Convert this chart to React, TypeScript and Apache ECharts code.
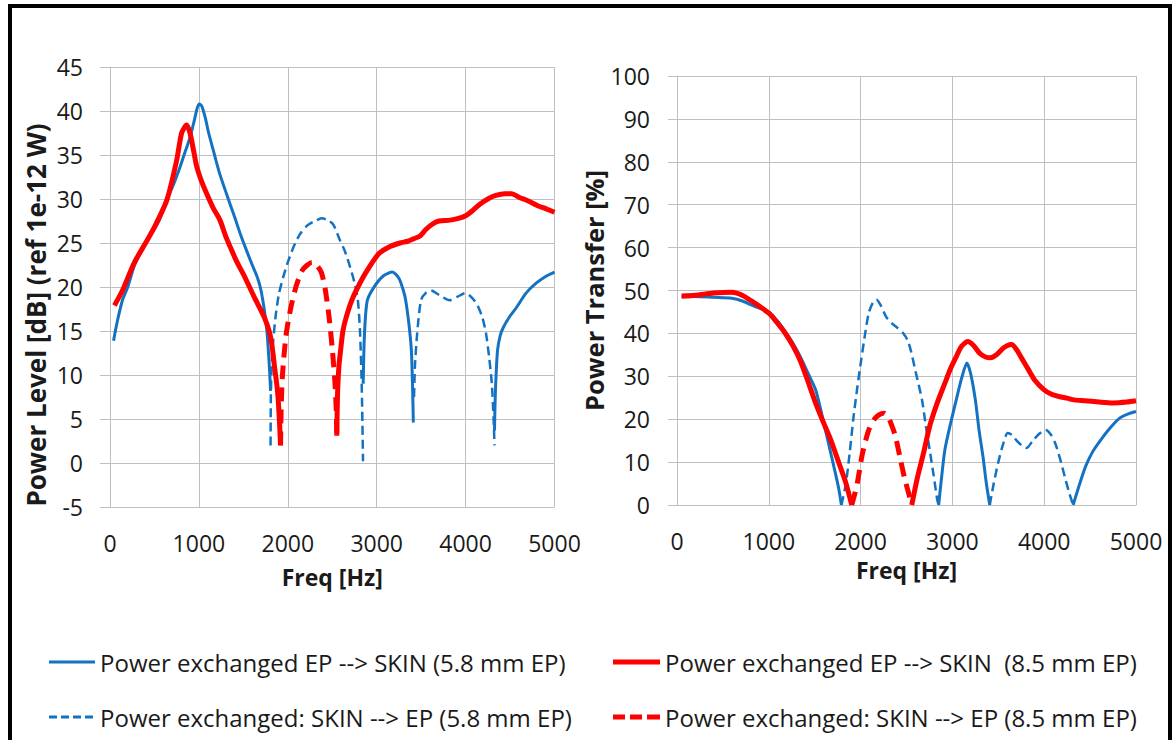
import React, { useEffect, useRef } from 'react';
import * as echarts from 'echarts';

// ---------- legend names ----------
const NAME_B1 = 'Power exchanged EP --> SKIN (5.8 mm EP)';
const NAME_B2 = 'Power exchanged: SKIN --> EP (5.8 mm EP)';
const NAME_R1 = 'Power exchanged EP --> SKIN  (8.5 mm EP)';
const NAME_R2 = 'Power exchanged: SKIN --> EP (8.5 mm EP)';

// ---------- left chart: Power Level [dB] ----------
const lvlBlueSolidA = [[40, 13.9], [80, 16], [140, 18.5], [200, 20], [270, 22.3], [350, 24], [450, 25.8], [550, 27.5], [640, 29.9], [720, 31.8], [790, 33.7], [850, 35.5], [900, 37], [950, 39], [980, 40.3], [1005, 40.8], [1030, 40.6], [1070, 39.3], [1110, 37.5], [1160, 35.6], [1230, 33], [1310, 30.6], [1400, 28], [1470, 25.9], [1530, 24.3], [1600, 22.5], [1650, 21.3], [1690, 20], [1730, 17.8], [1760, 15.5], [1780, 13], [1795, 10.5], [1806, 8.2]];
const lvlBlueSolidB = [[2848, 9], [2862, 14.5], [2895, 18.5], [2990, 20.3], [3080, 21.3], [3175, 21.7], [3250, 21], [3300, 19.6], [3326, 18.5], [3360, 16], [3390, 12.8], [3405, 8], [3412, 4.6]];
const lvlBlueSolidC = [[4325, 3.7], [4335, 8], [4359, 12.8], [4390, 14.5], [4424, 15.4], [4500, 16.7], [4574, 17.7], [4680, 19.3], [4790, 20.4], [4900, 21.2], [5000, 21.7]];
const lvlBlueDashA = [[1806, 2], [1810, 8], [1825, 12.5], [1862, 16.6], [1900, 19.2], [1948, 21.1], [2000, 22.8], [2062, 24.5], [2137, 26], [2220, 27], [2287, 27.4], [2381, 27.8], [2450, 27.6], [2512, 27.1], [2587, 25.3], [2637, 24.2], [2700, 22.3], [2750, 20.5], [2788, 18.5], [2812, 15], [2831, 9], [2842, 3], [2846, 0.2]];
const lvlBlueDashB = [[3420, 7.5], [3430, 11], [3455, 14.7], [3498, 18.5], [3550, 19.3], [3611, 19.6], [3700, 19.1], [3821, 18.5], [3910, 18.9], [3993, 19.3], [4060, 18.9], [4110, 18.3], [4144, 17.7], [4190, 16.5], [4230, 14.7], [4265, 12], [4295, 9], [4315, 5], [4325, 2]];
const lvlRedSolidA = [[50, 17.9], [140, 19.6], [270, 22.7], [400, 25], [500, 26.8], [640, 29.9], [750, 34.4], [806, 37.5], [862, 38.4], [900, 37.5], [940, 35.5], [975, 33.7], [1030, 32], [1088, 30.6], [1160, 29], [1237, 27.6], [1300, 25.8], [1350, 24.6], [1420, 23], [1518, 21.1], [1620, 18.9], [1734, 16.6], [1790, 15], [1819, 13.6], [1850, 11], [1884, 8.2], [1905, 5], [1918, 2]];
const lvlRedSolidB = [[2551, 3.1], [2560, 8], [2575, 11], [2594, 12.8], [2620, 15], [2658, 16.6], [2720, 18.5], [2809, 20.4], [2900, 22], [3025, 23.8], [3150, 24.6], [3262, 25], [3350, 25.2], [3420, 25.5], [3487, 25.8], [3550, 26.5], [3620, 27.1], [3700, 27.5], [3825, 27.6], [3920, 27.8], [4000, 28.1], [4080, 28.7], [4160, 29.4], [4250, 30], [4340, 30.4], [4440, 30.6], [4520, 30.6], [4600, 30.2], [4700, 29.8], [4800, 29.3], [4900, 28.9], [5000, 28.5]];
const lvlRedDashA = [[1918, 2], [1925, 6], [1940, 10], [1980, 14.5], [2035, 17.7], [2100, 20.3], [2163, 21.9], [2220, 22.5], [2271, 22.8], [2330, 22.4], [2379, 21.6], [2420, 19.8], [2464, 16.6], [2500, 13], [2529, 9.4], [2545, 6], [2551, 3.1]];

// ---------- right chart: Power Transfer [%] ----------
const trBlueSolidA = [[50, 48.5], [182, 48.6], [400, 48.4], [597, 48.2], [720, 47.5], [845, 46.3], [1000, 45], [1090, 43], [1177, 40.5], [1260, 37.8], [1343, 34.6], [1430, 30.6], [1509, 26.9], [1570, 21.8], [1633, 16], [1717, 8.2], [1760, 4], [1791, 0]];
const trBlueSolidB = [[2850, 0], [2880, 6], [2918, 12.9], [2980, 19], [3042, 24.5], [3100, 29.5], [3158, 33.1], [3200, 30.5], [3250, 24.5], [3290, 17.5], [3333, 11.3], [3370, 5], [3407, 0]];
const trBlueSolidC = [[4315, 0], [4380, 4.5], [4451, 9], [4530, 12.5], [4617, 15.2], [4720, 18], [4825, 20.3], [4910, 21.2], [5000, 21.8]];
const trBlueDashA = [[1791, 0], [1840, 5], [1880, 12], [1924, 20.7], [1965, 27.5], [2007, 33.9], [2050, 40], [2089, 44.8], [2130, 47], [2172, 47.9], [2220, 46.5], [2280, 43.8], [2338, 42.4], [2400, 41.3], [2462, 40.1], [2510, 38.5], [2545, 36.2], [2600, 31], [2669, 24.5], [2710, 18.5], [2752, 12.9], [2795, 7], [2835, 1.2], [2850, 0]];
const trBlueDashB = [[3407, 0], [3450, 5], [3498, 9.8], [3550, 14], [3602, 16.8], [3650, 16.3], [3700, 15], [3760, 13.8], [3809, 13.3], [3870, 14.8], [3940, 16.5], [4016, 17.5], [4070, 16.5], [4120, 14.4], [4170, 11], [4224, 6.6], [4270, 3], [4315, 0]];
const trRedSolidA = [[50, 48.7], [200, 48.9], [400, 49.4], [597, 49.6], [720, 48.8], [845, 47.1], [1000, 44.7], [1090, 42.5], [1177, 40.1], [1260, 37.2], [1343, 33.6], [1420, 29.2], [1509, 23.8], [1590, 19.5], [1675, 15.2], [1760, 10], [1840, 5.1], [1903, 0]];
const trRedSolidB = [[2557, 0], [2620, 6.5], [2690, 12.5], [2752, 18.3], [2830, 23.5], [2918, 28.4], [2980, 31.8], [3042, 34.6], [3100, 37], [3167, 38.1], [3230, 37.2], [3300, 35.3], [3360, 34.5], [3415, 34.3], [3480, 35], [3550, 36.5], [3600, 37.2], [3644, 37.4], [3700, 36.2], [3760, 34], [3830, 31.5], [3900, 29], [3996, 26.9], [4080, 25.8], [4162, 25.3], [4250, 24.9], [4327, 24.5], [4450, 24.3], [4600, 24], [4750, 23.8], [4900, 24], [5000, 24.3]];
const trRedDashA = [[1903, 0], [1935, 2.5], [1965, 5.2], [2020, 12], [2089, 17.5], [2150, 20], [2200, 21], [2254, 21.4], [2300, 20.5], [2340, 18.5], [2380, 16], [2430, 11], [2483, 5.9], [2520, 3], [2557, 0]];

const BLUE = '#1372c2';
const RED = '#ff0000';
const GRID_C = '#bfbfbf';
const TXT = '#1a1a1a';
const FONT = '"Open Sans", "Noto Sans", sans-serif';

// legend icons: solid bar and dashed bars sized to itemWidth x itemHeight
const ICON_BLUE_SOLID = 'path://M0,0h46v3h-46z';
const ICON_BLUE_DASH = 'path://M0,0h8v3h-8zM12,0h8v3h-8zM24,0h8v3h-8zM36,0h8v3h-8zM46,0h0v3h0z';
const ICON_RED_SOLID = 'path://M0,0h47v5h-47z';
const ICON_RED_DASH = 'path://M0,0h12v5h-12zM17,0h12v5h-12zM34,0h13v5h-13z';

function joinSegs(...segs: number[][][]) {
  const out: any[] = [];
  segs.forEach((s, i) => {
    if (i > 0) out.push([s[0][0], '-']);
    s.forEach((p) => out.push(p));
  });
  return out;
}

function line(name: string, data: any[], idx: number, color: string, width: number, dash?: number[]) {
  return {
    type: 'line',
    name,
    xAxisIndex: idx,
    yAxisIndex: idx,
    data,
    showSymbol: false,
    symbol: 'none',
    smooth: 0.25,
    connectNulls: false,
    lineStyle: { color, width, type: dash ? dash : 'solid', cap: 'butt', join: 'round' },
    itemStyle: { color },
  };
}

function xAxis(idx: number, gap: number) {
  return {
    type: 'value',
    gridIndex: idx,
    min: 0,
    max: 5000,
    interval: 1000,
    name: 'Freq [Hz]',
    nameLocation: 'middle',
    nameGap: gap,
    nameTextStyle: { fontFamily: FONT, fontSize: 23, fontWeight: 'bold', color: TXT },
    axisLine: { show: true, lineStyle: { color: GRID_C, width: 1 } },
    axisTick: { show: false },
    axisLabel: { fontFamily: FONT, fontSize: 23, color: TXT, margin: 24, formatter: (v: number) => String(v) },
    splitLine: { show: true, lineStyle: { color: GRID_C, width: 1 } },
  };
}

export default function App() {
  const ref = useRef<HTMLDivElement>(null);
  useEffect(() => {
    if (!ref.current) return;
    const chart = echarts.init(ref.current, null, { renderer: 'svg' });
    const legendText = { fontFamily: FONT, fontSize: 24, color: TXT };
    const option: any = {
      animation: false,
      backgroundColor: '#ffffff',
      grid: [
        { left: 110, top: 67, width: 444.5, height: 440 },
        { left: 677, top: 76, width: 459, height: 429 },
      ],
      xAxis: [xAxis(0, 58), xAxis(1, 53)],
      yAxis: [
        {
          type: 'value', gridIndex: 0, min: -5, max: 45, interval: 5,
          name: 'Power Level [dB] (ref 1e-12 W)', nameLocation: 'middle', nameGap: 61,
          nameTextStyle: { fontFamily: FONT, fontSize: 26, fontWeight: 'bold', color: TXT, padding: [0, 56, 0, 0] },
          axisLine: { show: true, lineStyle: { color: GRID_C, width: 1 } },
          axisTick: { show: true, length: 10, lineStyle: { color: GRID_C } },
          axisLabel: { fontFamily: FONT, fontSize: 23, color: TXT, margin: 27 },
          splitLine: { show: true, lineStyle: { color: GRID_C, width: 1 } },
        },
        {
          type: 'value', gridIndex: 1, min: 0, max: 100, interval: 10,
          name: 'Power Transfer [%]', nameLocation: 'middle', nameGap: 60,
          nameTextStyle: { fontFamily: FONT, fontSize: 25.5, fontWeight: 'bold', color: TXT },
          axisLine: { show: true, lineStyle: { color: GRID_C, width: 1 } },
          axisTick: { show: true, length: 9, lineStyle: { color: GRID_C } },
          axisLabel: { fontFamily: FONT, fontSize: 23, color: TXT, margin: 27 },
          splitLine: { show: true, lineStyle: { color: GRID_C, width: 1 } },
        },
      ],
      legend: [
        {
          left: 49, top: 650, orient: 'vertical', itemWidth: 46, itemHeight: 3, itemGap: 31, padding: 0,
          textStyle: legendText,
          data: [
            { name: NAME_B1, icon: ICON_BLUE_SOLID },
            { name: NAME_B2, icon: ICON_BLUE_DASH },
          ],
        },
        {
          left: 613, top: 650, orient: 'vertical', itemWidth: 47, itemHeight: 5, itemGap: 31, padding: 0,
          textStyle: legendText,
          data: [
            { name: NAME_R1, icon: ICON_RED_SOLID },
            { name: NAME_R2, icon: ICON_RED_DASH },
          ],
        },
      ],
      graphic: [
        {
          type: 'rect', silent: true, z: 100,
          shape: { x: 10, y: 6, width: 1160, height: 760 },
          style: { fill: 'none', stroke: '#000000', lineWidth: 4 },
        },
      ],
      series: [
        line(NAME_B1, joinSegs(lvlBlueSolidA, lvlBlueSolidB, lvlBlueSolidC), 0, BLUE, 3),
        line(NAME_B2, joinSegs(lvlBlueDashA, lvlBlueDashB), 0, BLUE, 2.5, [9, 5]),
        line(NAME_R1, joinSegs(lvlRedSolidA, lvlRedSolidB), 0, RED, 5),
        line(NAME_R2, joinSegs(lvlRedDashA), 0, RED, 5, [14, 8]),
        line(NAME_B1, joinSegs(trBlueSolidA, trBlueSolidB, trBlueSolidC), 1, BLUE, 3),
        line(NAME_B2, joinSegs(trBlueDashA, trBlueDashB), 1, BLUE, 2.5, [9, 5]),
        line(NAME_R1, joinSegs(trRedSolidA, trRedSolidB), 1, RED, 5),
        line(NAME_R2, joinSegs(trRedDashA), 1, RED, 5, [14, 8]),
      ],
    };
    chart.setOption(option);
    return () => chart.dispose();
  }, []);
  return (
    <div
      ref={ref}
      style={{ position: 'fixed', left: 0, top: 0, width: 1176, height: 740, background: '#fff' }}
    />
  );
}
